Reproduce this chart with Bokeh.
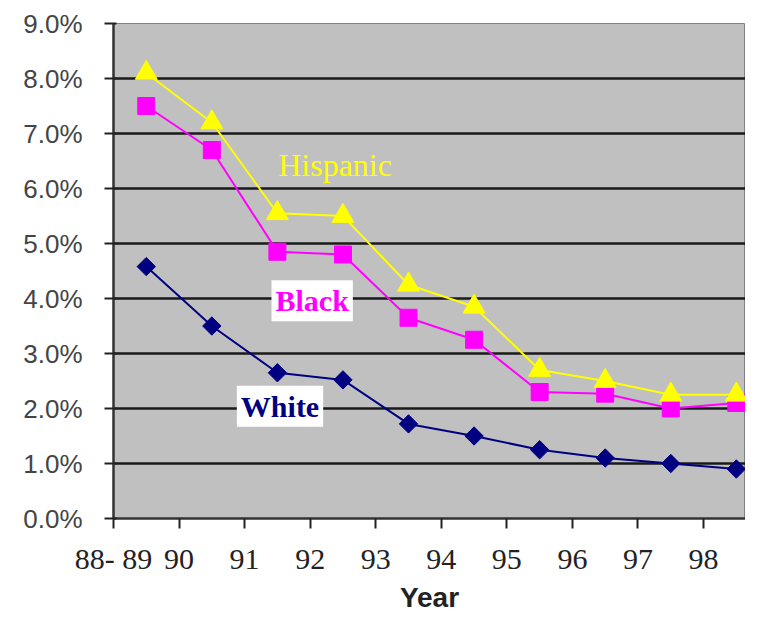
import numpy as np
from bokeh.plotting import figure
from bokeh.models import Label, FixedTicker, PrintfTickFormatter, Range1d
from bokeh.embed import file_html
from bokeh.resources import INLINE

categories = ["88-89", "90", "91", "92", "93", "94", "95", "96", "97", "98"]
tick_labels = ["88- 89", "90", "91", "92", "93", "94", "95", "96", "97", "98"]
hispanic = [8.1, 7.2, 5.55, 5.5, 4.25, 3.85, 2.7, 2.5, 2.25, 2.25]
black = [7.5, 6.7, 4.85, 4.8, 3.65, 3.25, 2.3, 2.27, 2.0, 2.1]
white = [4.58, 3.5, 2.65, 2.52, 1.72, 1.5, 1.25, 1.1, 1.0, 0.9]
y_ticks = [0, 1, 2, 3, 4, 5, 6, 7, 8, 9]

x = np.arange(len(categories)) + 0.5

p = figure(width=745, height=615, output_backend="svg", toolbar_location=None,
           x_range=Range1d(0, 9.64), y_range=Range1d(0, 9),
           min_border_left=113, min_border_right=0, min_border_top=23, min_border_bottom=85)
p.background_fill_color = "#C0C0C0"
p.border_fill_color = "white"
p.outline_line_color = "#808080"
p.outline_line_width = 1

# grid
p.xgrid.grid_line_color = None
p.ygrid.grid_line_color = "#1a1a1a"
p.ygrid.grid_line_width = 2.5
p.yaxis.ticker = FixedTicker(ticks=y_ticks)
p.yaxis.formatter = PrintfTickFormatter(format="%.1f%%")
p.xaxis.ticker = FixedTicker(ticks=list(range(len(categories) + 1)))
p.xaxis.major_label_overrides = {i: lab for i, lab in enumerate(tick_labels)}
p.xaxis.major_label_overrides[len(categories)] = ""

for ax in (p.xaxis, p.yaxis):
    ax.axis_line_color = "#333333"
    ax.axis_line_width = 2.5
    ax.major_tick_line_color = "#222222"
    ax.major_tick_line_width = 2
    ax.minor_tick_line_color = None

p.yaxis.major_tick_out = 9
p.yaxis.major_tick_in = 3
p.yaxis.major_label_standoff = 22
p.yaxis.major_label_text_font = "Liberation Sans"
p.yaxis.major_label_text_font_size = "26px"
p.yaxis.major_label_text_color = "#444444"

p.xaxis.major_tick_out = 10
p.xaxis.major_tick_in = 0
p.xaxis.major_label_standoff = 13
p.xaxis.major_label_text_font = "Liberation Serif"
p.xaxis.major_label_text_font_size = "30px"
p.xaxis.major_label_text_color = "#222222"
p.xaxis.axis_label = "Year"
p.xaxis.axis_label_text_font = "Liberation Sans"
p.xaxis.axis_label_text_font_style = "bold"
p.xaxis.axis_label_text_font_size = "28px"
p.xaxis.axis_label_text_color = "#222222"
p.xaxis.axis_label_standoff = 4

# series
p.line(x, white, line_color="#000080", line_width=2)
p.scatter(x, white, marker="square", angle=np.pi / 4, size=13,
          fill_color="#000080", line_color="#000080")
p.line(x, black, line_color="#FF00FF", line_width=2)
p.scatter(x, black, marker="square", size=17, fill_color="#FF00FF", line_color="#FF00FF")
p.line(x, hispanic, line_color="#FFFF00", line_width=2)
p.scatter(x, hispanic, marker="triangle", size=22, fill_color="#FFFF00", line_color="#FFFF00")

# annotations
p.add_layout(Label(x=3.38, y=6.43, text="Hispanic", text_color="#FFFF00",
                   text_font="Liberation Serif", text_font_size="32px",
                   text_align="center", text_baseline="middle"))
p.add_layout(Label(x=3.03, y=3.96, text="Black", text_color="#FF00FF",
                   text_font="Liberation Serif", text_font_style="bold", text_font_size="30px",
                   text_align="center", text_baseline="middle",
                   background_fill_color="white", padding=4))
p.add_layout(Label(x=2.54, y=2.04, text="White", text_color="#000080",
                   text_font="Liberation Serif", text_font_style="bold", text_font_size="30px",
                   text_align="center", text_baseline="middle",
                   background_fill_color="white", padding=4))

open("out.html", "w").write(file_html(p, INLINE))
